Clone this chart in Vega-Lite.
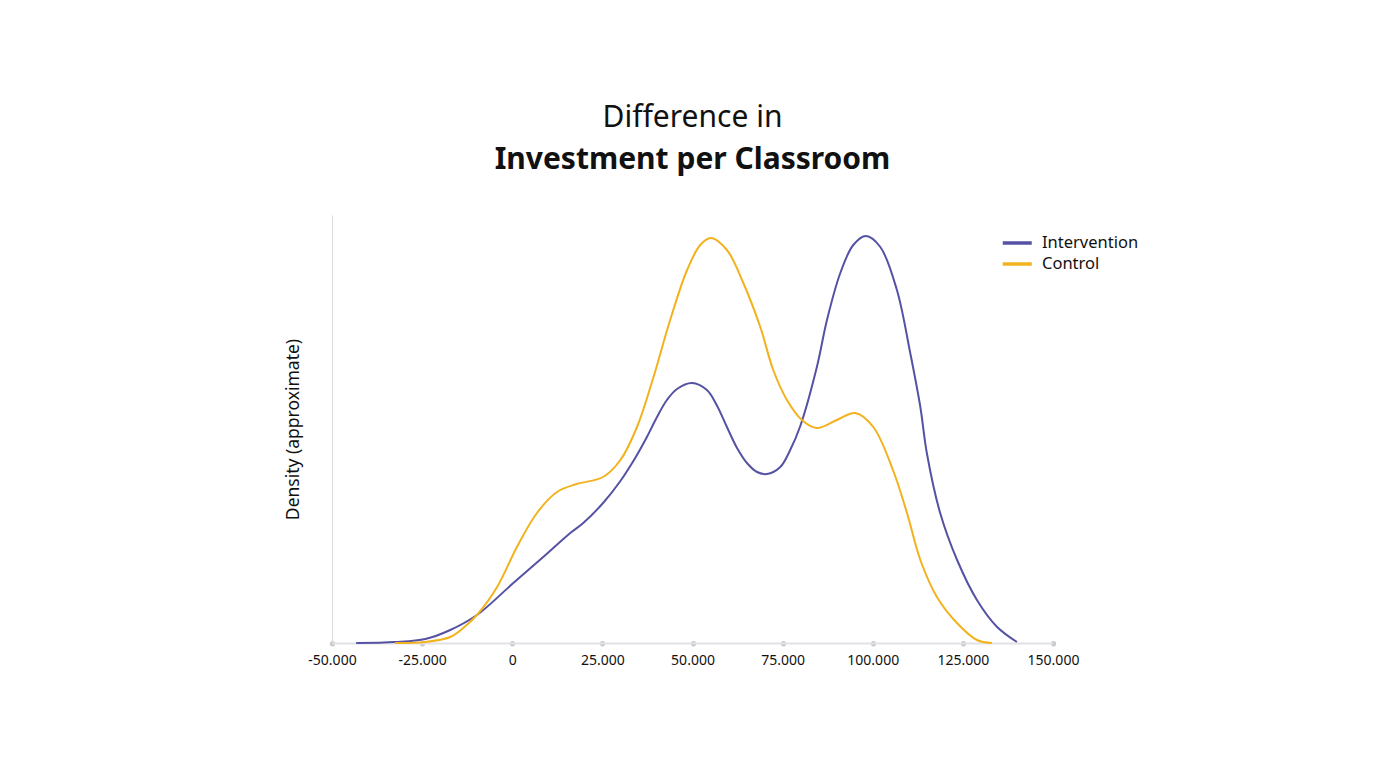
{
  "$schema": "https://vega.github.io/schema/vega-lite/v6.json",
  "width": 721,
  "height": 428,
  "autosize": {"type": "none"},
  "padding": {"left": 332, "top": 215, "right": 333, "bottom": 125},
  "background": "white",
  "title": {
    "text": "Difference in",
    "subtitle": "Investment per Classroom",
    "anchor": "middle",
    "frame": "group",
    "font": "Noto Sans",
    "fontSize": 30,
    "fontWeight": "normal",
    "color": "#111111",
    "subtitleFont": "Noto Sans",
    "subtitleFontSize": 30,
    "subtitleFontWeight": "bold",
    "subtitleColor": "#111111",
    "subtitlePadding": 12,
    "offset": 40
  },
  "data": {
    "values": [
      {"group": "Intervention", "x": -43300, "density": 0.000},
      {"group": "Intervention", "x": -32500, "density": 0.001},
      {"group": "Intervention", "x": -24100, "density": 0.004},
      {"group": "Intervention", "x": -17200, "density": 0.013},
      {"group": "Intervention", "x": -9800, "density": 0.028},
      {"group": "Intervention", "x": 300, "density": 0.060},
      {"group": "Intervention", "x": 8600, "density": 0.086},
      {"group": "Intervention", "x": 16100, "density": 0.110},
      {"group": "Intervention", "x": 19700, "density": 0.120},
      {"group": "Intervention", "x": 25200, "density": 0.140},
      {"group": "Intervention", "x": 30000, "density": 0.162},
      {"group": "Intervention", "x": 34100, "density": 0.185},
      {"group": "Intervention", "x": 37350, "density": 0.206},
      {"group": "Intervention", "x": 40150, "density": 0.226},
      {"group": "Intervention", "x": 42900, "density": 0.243},
      {"group": "Intervention", "x": 45700, "density": 0.254},
      {"group": "Intervention", "x": 49850, "density": 0.260},
      {"group": "Intervention", "x": 54000, "density": 0.253},
      {"group": "Intervention", "x": 56700, "density": 0.238},
      {"group": "Intervention", "x": 59550, "density": 0.216},
      {"group": "Intervention", "x": 62350, "density": 0.195},
      {"group": "Intervention", "x": 65100, "density": 0.180},
      {"group": "Intervention", "x": 67900, "density": 0.171},
      {"group": "Intervention", "x": 70650, "density": 0.169},
      {"group": "Intervention", "x": 74350, "density": 0.176},
      {"group": "Intervention", "x": 77100, "density": 0.193},
      {"group": "Intervention", "x": 79900, "density": 0.217},
      {"group": "Intervention", "x": 84500, "density": 0.276},
      {"group": "Intervention", "x": 87300, "density": 0.323},
      {"group": "Intervention", "x": 91000, "density": 0.370},
      {"group": "Intervention", "x": 94600, "density": 0.398},
      {"group": "Intervention", "x": 98100, "density": 0.407},
      {"group": "Intervention", "x": 102100, "density": 0.396},
      {"group": "Intervention", "x": 106700, "density": 0.353},
      {"group": "Intervention", "x": 110400, "density": 0.290},
      {"group": "Intervention", "x": 113200, "density": 0.236},
      {"group": "Intervention", "x": 115000, "density": 0.190},
      {"group": "Intervention", "x": 118700, "density": 0.130},
      {"group": "Intervention", "x": 123400, "density": 0.083},
      {"group": "Intervention", "x": 128900, "density": 0.043},
      {"group": "Intervention", "x": 134500, "density": 0.016},
      {"group": "Intervention", "x": 140000, "density": 0.001},
      {"group": "Control", "x": -32500, "density": 0.000},
      {"group": "Control", "x": -24100, "density": 0.001},
      {"group": "Control", "x": -17200, "density": 0.006},
      {"group": "Control", "x": -13600, "density": 0.015},
      {"group": "Control", "x": -9800, "density": 0.028},
      {"group": "Control", "x": -4200, "density": 0.056},
      {"group": "Control", "x": 1300, "density": 0.096},
      {"group": "Control", "x": 6850, "density": 0.130},
      {"group": "Control", "x": 12400, "density": 0.151},
      {"group": "Control", "x": 17900, "density": 0.159},
      {"group": "Control", "x": 25200, "density": 0.166},
      {"group": "Control", "x": 30000, "density": 0.183},
      {"group": "Control", "x": 34600, "density": 0.216},
      {"group": "Control", "x": 39100, "density": 0.265},
      {"group": "Control", "x": 43800, "density": 0.323},
      {"group": "Control", "x": 48500, "density": 0.373},
      {"group": "Control", "x": 52150, "density": 0.398},
      {"group": "Control", "x": 55100, "density": 0.405},
      {"group": "Control", "x": 59550, "density": 0.393},
      {"group": "Control", "x": 64100, "density": 0.360},
      {"group": "Control", "x": 68800, "density": 0.316},
      {"group": "Control", "x": 72400, "density": 0.273},
      {"group": "Control", "x": 76200, "density": 0.243},
      {"group": "Control", "x": 80350, "density": 0.223},
      {"group": "Control", "x": 84500, "density": 0.215},
      {"group": "Control", "x": 90050, "density": 0.223},
      {"group": "Control", "x": 95150, "density": 0.230},
      {"group": "Control", "x": 100150, "density": 0.216},
      {"group": "Control", "x": 105700, "density": 0.172},
      {"group": "Control", "x": 109500, "density": 0.130},
      {"group": "Control", "x": 113200, "density": 0.083},
      {"group": "Control", "x": 117800, "density": 0.046},
      {"group": "Control", "x": 123350, "density": 0.020},
      {"group": "Control", "x": 128900, "density": 0.003},
      {"group": "Control", "x": 133050, "density": 0.000}
    ]
  },
  "mark": {"type": "line", "interpolate": "catmull-rom", "strokeWidth": 2},
  "encoding": {
    "x": {
      "field": "x",
      "type": "quantitative",
      "scale": {"domain": [-50000, 150000], "nice": false, "zero": false},
      "axis": {
        "title": null,
        "values": [-50000, -25000, 0, 25000, 50000, 75000, 100000, 125000, 150000],
        "format": ",d",
        "grid": false,
        "labelFlush": false,
        "domainColor": "#e2e2e6",
        "domainWidth": 2,
        "tickColor": "#c8c8cc",
        "tickSize": 0.5,
        "tickWidth": 5,
        "tickCap": "round",
        "labelFont": "Noto Sans",
        "labelFontSize": 14,
        "labelColor": "#111111",
        "labelPadding": 10
      }
    },
    "y": {
      "field": "density",
      "type": "quantitative",
      "scale": {"domain": [0, 0.428], "nice": false},
      "axis": {
        "title": "Density (approximate)",
        "titleFont": "Noto Sans",
        "titleFontSize": 17.5,
        "titleFontWeight": "normal",
        "titleColor": "#111111",
        "titlePadding": 30,
        "labels": false,
        "ticks": false,
        "grid": false,
        "domainColor": "#dcdce0",
        "domainWidth": 1
      }
    },
    "color": {
      "field": "group",
      "type": "nominal",
      "scale": {"domain": ["Intervention", "Control"], "range": ["#5552a4", "#f2b21e"]},
      "legend": {
        "title": null,
        "orient": "none",
        "legendX": 669,
        "legendY": 19,
        "symbolType": "M-1,0L3,0",
        "symbolStrokeWidth": 3.5,
        "symbolSize": 210,
        "symbolFillColor": "transparent",
        "labelFont": "Noto Sans",
        "labelFontSize": 16.5,
        "labelColor": "#111111",
        "rowPadding": 3,
        "labelOffset": 23
      }
    }
  },
  "config": {
    "view": {"stroke": null},
    "locale": {
      "number": {
        "decimal": ",",
        "thousands": ".",
        "grouping": [3],
        "currency": ["", " €"],
        "minus": "-"
      }
    }
  }
}
